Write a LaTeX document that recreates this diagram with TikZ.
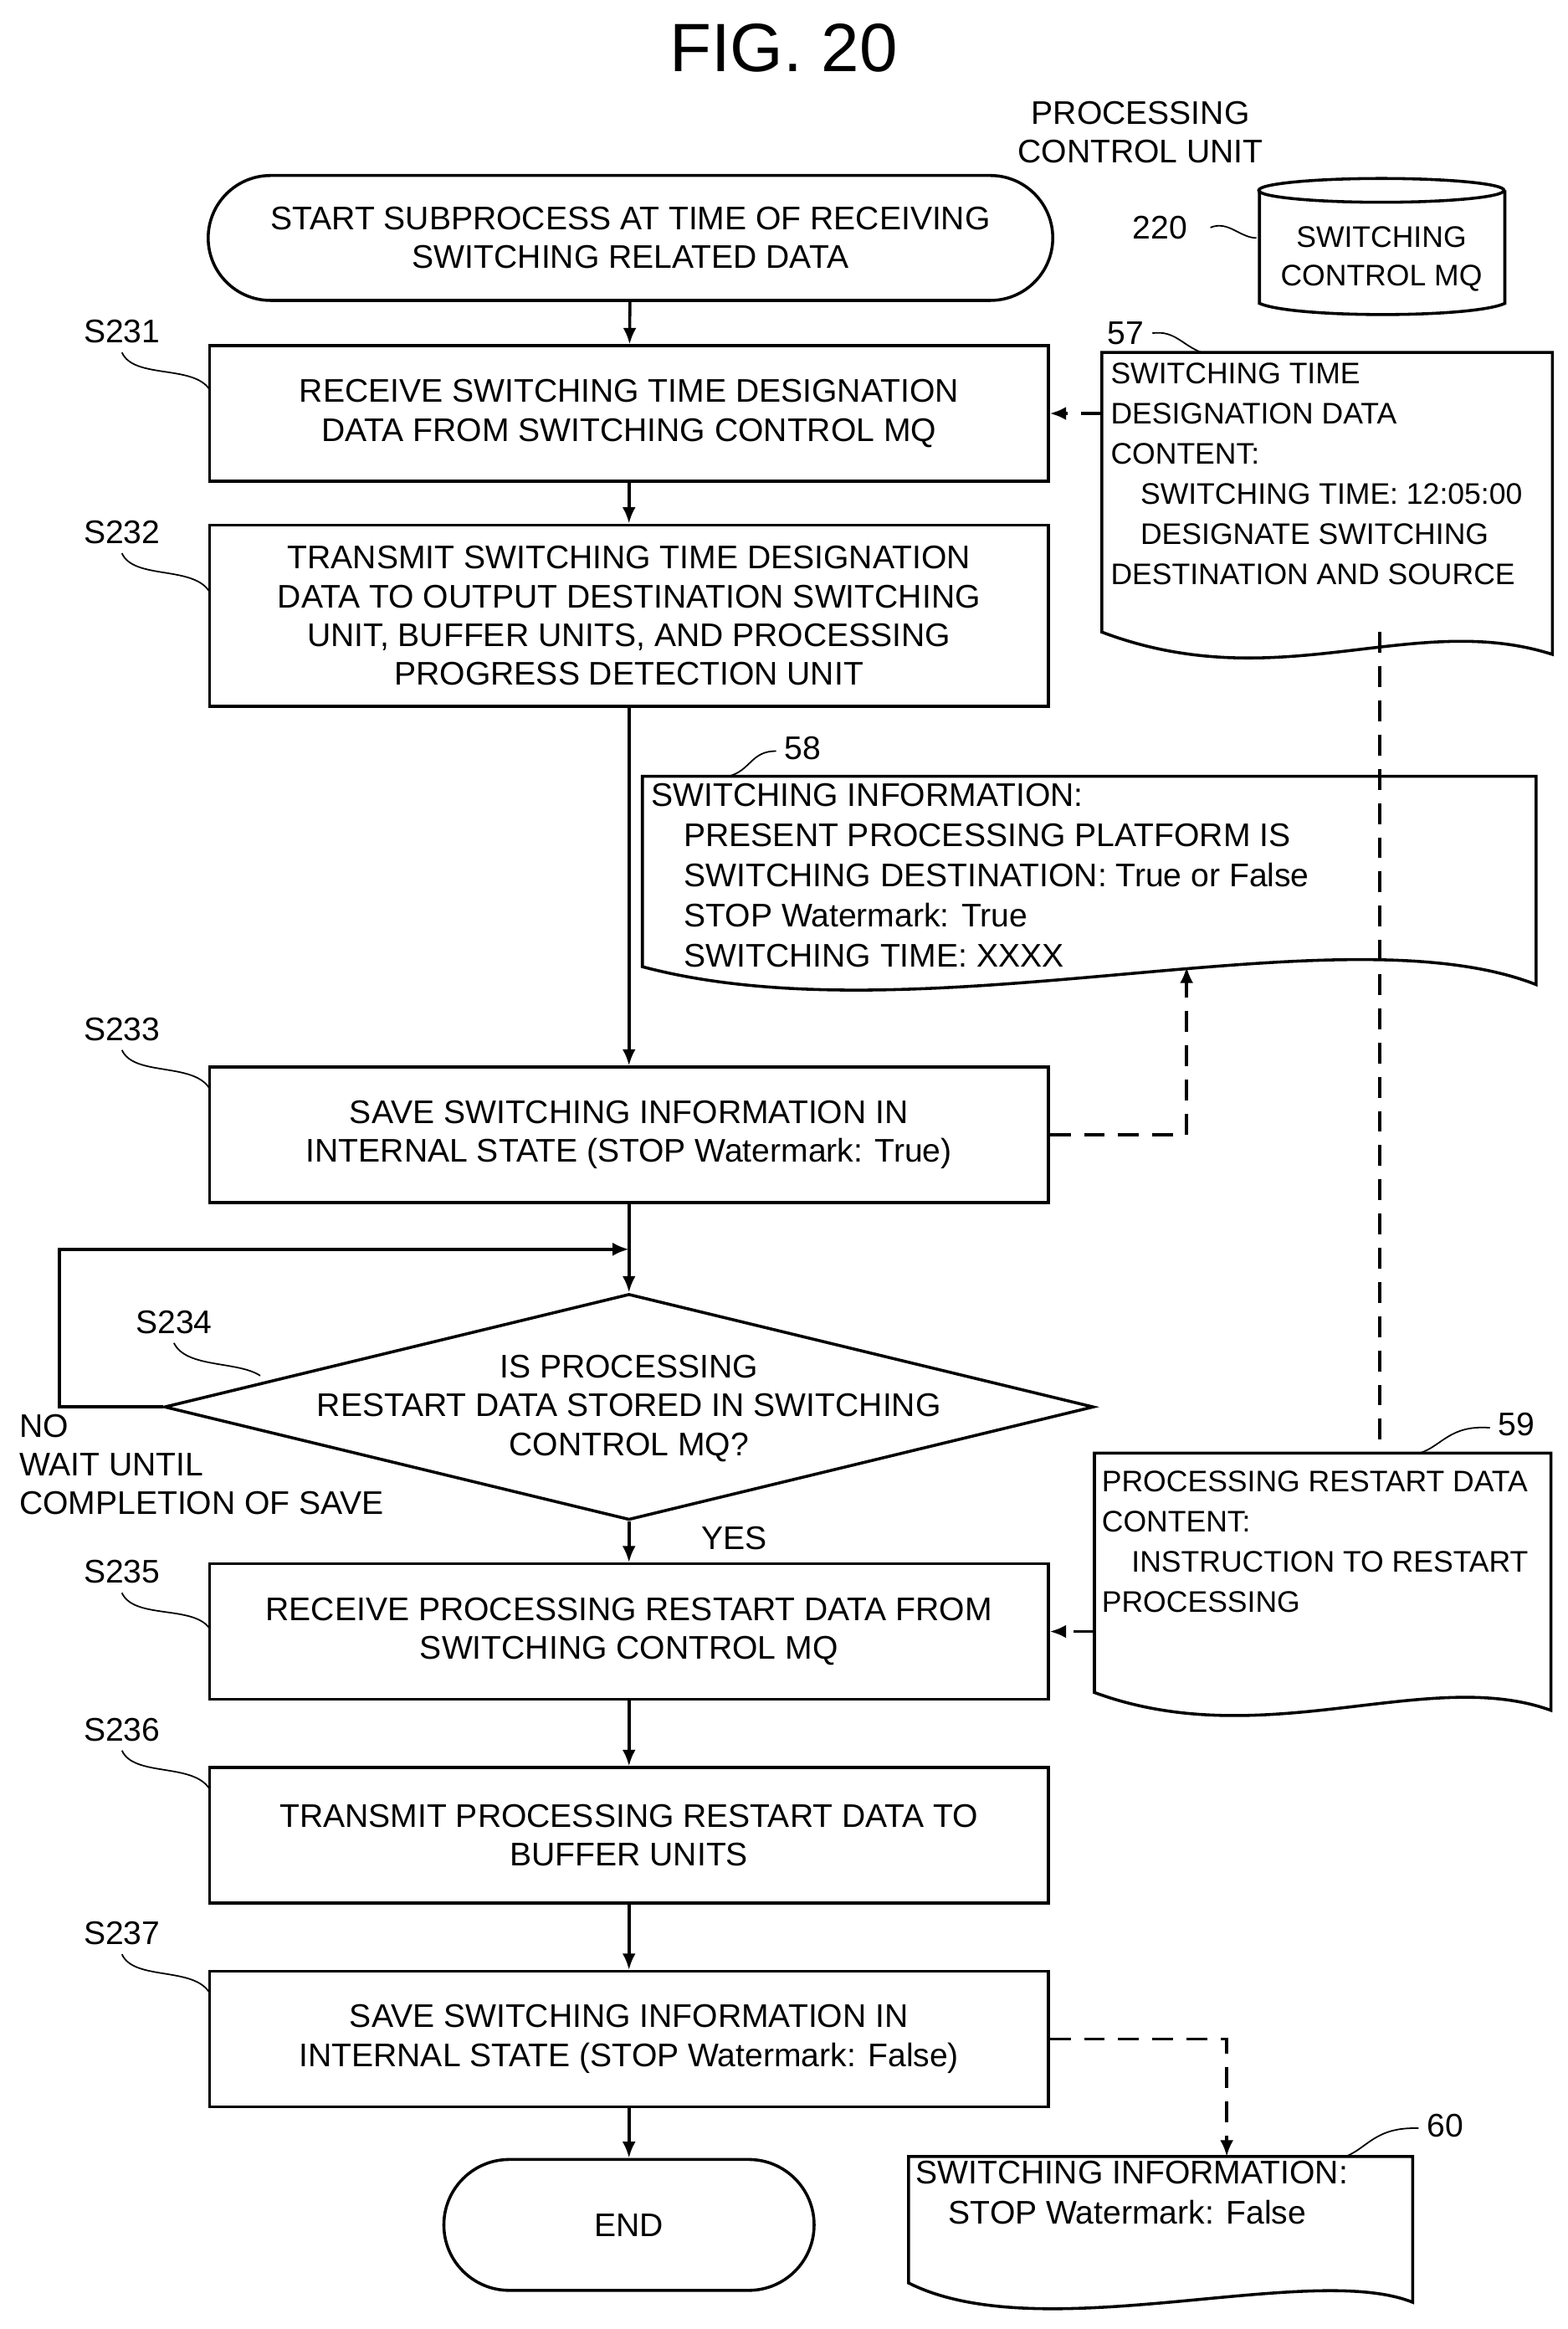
\documentclass[tikz,border=0pt]{standalone}
\usepackage{fontspec}
\setmainfont{Liberation Sans}
\usetikzlibrary{shapes.geometric,arrows.meta}
\begin{document}
\begin{tikzpicture}[x=1pt,y=-1pt,line width=2pt,
  every node/.style={font=\fontsize{22}{26}\selectfont,align=center,inner sep=0},
  box/.style={draw,minimum width=564pt,minimum height=91pt},
  arr/.style={-{Latex[length=11pt,width=9pt]}},
  dsh/.style={dash pattern=on 14pt off 9pt},
  doc/.style={font=\fontsize{20}{27}\selectfont,align=left,anchor=north west},
  lbl/.style={font=\fontsize{22}{26}\selectfont}]
\useasboundingbox (0,0) rectangle (1054,1566);
\node[font=\fontsize{46}{50}\selectfont] (title) at (527,32) {FIG. 20};
\node (pcu) at (767,89) {PROCESSING\\CONTROL UNIT};
\node[draw,rounded corners=42pt,minimum width=568pt,minimum height=84pt] (start) at (424,160) {START SUBPROCESS AT TIME OF RECEIVING\\SWITCHING RELATED DATA};
\node[box] (s231) at (423,278) {RECEIVE SWITCHING TIME DESIGNATION\\DATA FROM SWITCHING CONTROL MQ};
\node[box,minimum height=122pt] (s232) at (423,414) {TRANSMIT SWITCHING TIME DESIGNATION\\DATA TO OUTPUT DESTINATION SWITCHING\\UNIT, BUFFER UNITS, AND PROCESSING\\PROGRESS DETECTION UNIT};
\node[box] (s233) at (423,763) {SAVE SWITCHING INFORMATION IN\\INTERNAL STATE (STOP Watermark: True)};
\node[draw,diamond,aspect=4.1,minimum width=625pt,minimum height=152pt] (d) at (423,946) {};
\node at (423,947) {IS PROCESSING\\RESTART DATA STORED IN SWITCHING\\CONTROL MQ?};
\node[box] (s235) at (423,1097) {RECEIVE PROCESSING RESTART DATA FROM\\SWITCHING CONTROL MQ};
\node[box] (s236) at (423,1234) {TRANSMIT PROCESSING RESTART DATA TO\\BUFFER UNITS};
\node[box] (s237) at (423,1371) {SAVE SWITCHING INFORMATION IN\\INTERNAL STATE (STOP Watermark: False)};
\node[draw,rounded corners=44pt,minimum width=249pt,minimum height=88pt] (end) at (423,1496) {END};
% cylinder
\draw (847,128) -- (847,204) .. controls (870,214) and (990,214) .. (1012,204) -- (1012,128);
\draw (929,128) ellipse (82.5pt and 8pt);
\node[font=\fontsize{20}{26}\selectfont] (mq) at (929,174) {SWITCHING\\CONTROL MQ};
\coordinate (mqw) at (847,160);
\node[lbl] (n220) at (780,153) {220};
\draw[line width=1pt] (814,153) .. controls (826,148) and (834,160) .. (845,160);
% documents
\draw (741,237) -- (1044,237) -- (1044,440) .. controls (950,410) and (860,470) .. (741,425) -- cycle;
\node[doc] (t57) at (746,243) {SWITCHING TIME\\DESIGNATION DATA\\CONTENT:\\\quad SWITCHING TIME: 12:05:00\\\quad DESIGNATE SWITCHING\\DESTINATION AND SOURCE};
\node[lbl] (n57) at (757,224) {57};
\draw[line width=1pt] (775,224) .. controls (790,222) and (795,232) .. (808,237);
\draw (432,522) -- (1033,522) -- (1033,662) .. controls (900,610) and (620,700) .. (432,650) -- cycle;
\node[doc,font=\fontsize{22}{27}\selectfont] (t58) at (437,526) {SWITCHING INFORMATION:\\\quad PRESENT PROCESSING PLATFORM IS\\\quad SWITCHING DESTINATION: True or False\\\quad STOP Watermark: True\\\quad SWITCHING TIME: XXXX};
\node[lbl] (n58) at (540,503) {58};
\draw[line width=1pt] (522,505) .. controls (505,505) and (505,518) .. (490,522);
\draw (736,977) -- (1043,977) -- (1043,1150) .. controls (960,1120) and (850,1180) .. (736,1138) -- cycle;
\node[doc] (t59) at (740,988) {PROCESSING RESTART DATA\\CONTENT:\\\quad INSTRUCTION TO RESTART\\PROCESSING};
\node[lbl] (n59) at (1020,958) {59};
\draw[line width=1pt] (1002,960) .. controls (975,958) and (970,972) .. (955,977);
\draw (611,1450) -- (950,1450) -- (950,1548) .. controls (880,1520) and (700,1580) .. (611,1535) -- cycle;
\node[doc,font=\fontsize{22}{27}\selectfont] (t60) at (615,1452) {SWITCHING INFORMATION:\\\quad STOP Watermark: False};
\node[lbl] (n60) at (972,1429) {60};
\draw[line width=1pt] (954,1431) .. controls (925,1430) and (920,1444) .. (905,1450);
% step labels
\foreach \n/\y/\by in {S231/223/262,S232/358/398,S233/692/732,S235/1057/1095,S236/1163/1203,S237/1300/1340}{
  \node[lbl] at (82,\y) {\n};
  \draw[line width=1pt] (82,\y+14) .. controls (90,\y+32) and (130,\y+22) .. (141,\by);
}
\node[lbl] (s234) at (117,889) {S234};
\draw[line width=1pt] (117,903) .. controls (125,920) and (160,915) .. (175,925);
% flow
\draw[arr] (start) -- (s231);
\draw[arr] (s231) -- (s232);
\draw[arr] (s232) -- (s233);
\draw[arr] (s233) -- (d);
\draw[arr] (d) -- (s235);
\draw[arr] (s235) -- (s236);
\draw[arr] (s236) -- (s237);
\draw[arr] (s237) -- (end);
\coordinate (lp) at (423,840);
\draw[arr] (d.west) -- (40,946) -- (40,840) -- (lp);
\node[lbl,align=left,anchor=north west] (no) at (12,950) {NO\\WAIT UNTIL\\COMPLETION OF SAVE};
\node[lbl] (yes) at (494,1034) {YES};
% dashed
\draw[arr,dsh] (741,278) -- (s231.east);
\draw[dsh] (928,425) -- (928,977);
\draw[arr,dsh] (s233.east) -- (798,763) -- (798,650);
\draw[arr,dsh] (736,1097) -- (s235.east);
\draw[arr,dsh] (s237.east) -- (825,1371) -- (825,1450);
\end{tikzpicture}
\end{document}
